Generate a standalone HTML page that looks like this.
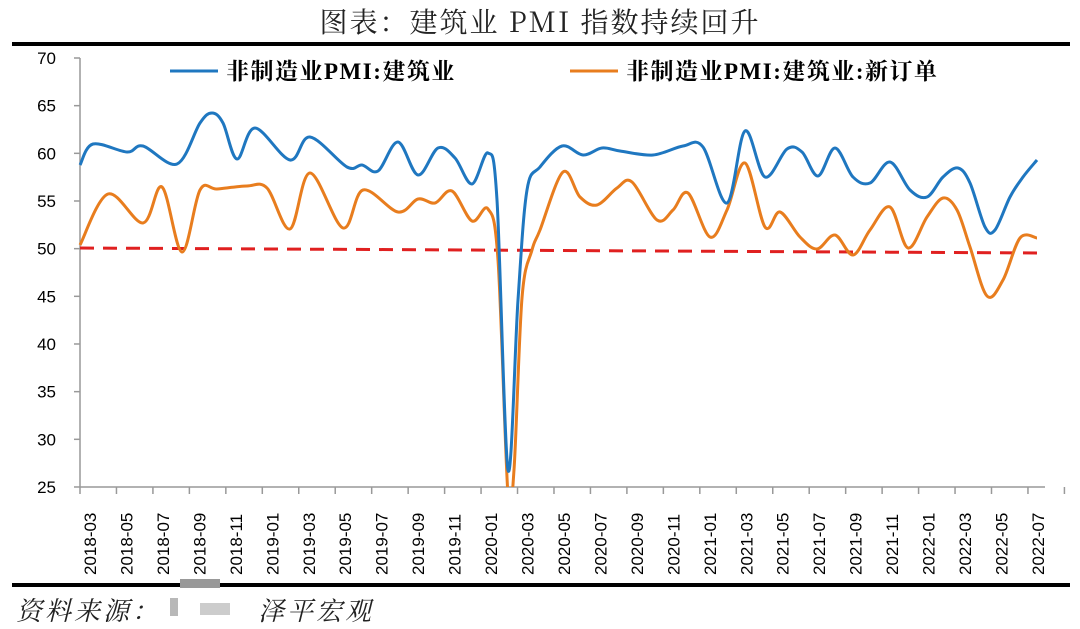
<!DOCTYPE html>
<html><head><meta charset="utf-8"><style>
body{margin:0;background:#fff;width:1080px;height:629px;overflow:hidden}
svg{display:block}
</style></head><body>
<svg id="s" width="1080" height="629" xmlns="http://www.w3.org/2000/svg">
<defs><clipPath id="cp"><rect x="60" y="50" width="1000" height="437"/></clipPath></defs>
<text x="540" y="32" text-anchor="middle" font-family="'Noto Serif CJK SC','Liberation Serif',serif" font-size="28" letter-spacing="2" fill="#222">图表：建筑业 PMI 指数持续回升</text>
<rect x="12" y="42" width="1058" height="4" fill="#000"/>
<rect x="12" y="583" width="1058" height="4" fill="#000"/>
<rect x="180" y="579" width="40" height="9" fill="#999"/>
<text x="16" y="620" font-family="'Noto Serif CJK SC',serif" font-style="italic" font-size="26" letter-spacing="3" fill="#222">资料来源：</text>
<rect x="170" y="598" width="8" height="18" fill="#888" opacity="0.6"/>
<rect x="200" y="603" width="30" height="12" fill="#aaa" opacity="0.6"/>
<text x="258" y="620" font-family="'Noto Serif CJK SC',serif" font-style="italic" font-size="26" letter-spacing="3" fill="#222">泽平宏观</text>
<g id="axes" stroke="#999" stroke-width="1.5" fill="none"></g>
<g id="labels" font-family="'Liberation Sans',sans-serif" font-size="17" fill="#000"></g>
<line x1="80" y1="248" x2="1045" y2="253" stroke="#e02020" stroke-width="3" stroke-dasharray="14,9"/>
<g clip-path="url(#cp)">
<path id="o" fill="none" stroke="#e87d1e" stroke-width="3"/>
<path id="b" fill="none" stroke="#1f77c0" stroke-width="3"/>
</g>
<line x1="170" y1="71" x2="218" y2="71" stroke="#1f77c0" stroke-width="3"/>
<text x="226" y="79" font-family="'Liberation Serif','Noto Serif CJK SC',serif" font-weight="bold" font-size="23" letter-spacing="1.5" fill="#000">非制造业PMI:建筑业</text>
<line x1="570" y1="71" x2="618" y2="71" stroke="#e87d1e" stroke-width="3"/>
<text x="626" y="79" font-family="'Liberation Serif','Noto Serif CJK SC',serif" font-weight="bold" font-size="23" letter-spacing="1.5" fill="#000">非制造业PMI:建筑业:新订单</text>
</svg>
<script>
var ns="http://www.w3.org/2000/svg";
function el(t,a,p){var e=document.createElementNS(ns,t);for(var k in a)e.setAttribute(k,a[k]);p.appendChild(e);return e;}
var ax=document.getElementById('axes'),lb=document.getElementById('labels');
el('line',{x1:80,y1:58,x2:80,y2:487},ax);
el('line',{x1:80,y1:487,x2:1045,y2:487},ax);
for(var v=25;v<=70;v+=5){var y=58+(70-v)*9.533;el('line',{x1:74,y1:y,x2:80,y2:y},ax);
var t=el('text',{x:56,y:y+6,'text-anchor':'end'},lb);t.textContent=v;}
var lab=[];for(var y=2018,m=3;!(y==2022&&m>7);){lab.push(y+'-'+(m<10?'0':'')+m);m+=2;if(m>12){m-=12;y++;}}
for(var i=0;i<=27;i++){var x=80+i*36.46;el('line',{x1:x,y1:487,x2:x,y2:494},ax);}
lab.forEach(function(s,i){var x=90+i*36.46+6;var t=el('text',{x:x,y:575,transform:'rotate(-90 '+x+' 575)'},lb);t.textContent=s;});
function cr(p){var d='M'+p[0][0]+','+p[0][1];for(var i=0;i<p.length-1;i++){var p0=p[i-1]||p[i],p1=p[i],p2=p[i+1],p3=p[i+2]||p2;
d+=' C'+(p1[0]+(p2[0]-p0[0])/6)+','+(p1[1]+(p2[1]-p0[1])/6)+' '+(p2[0]-(p3[0]-p1[0])/6)+','+(p2[1]-(p3[1]-p1[1])/6)+' '+p2[0]+','+p2[1];}return d;}
var B=[[80,165],[93,144],[127,152],[143,146],[177,164],[200,123],[212,113],[223,123],[237,159],[255,128],[290,160],[310,137],[347,167],[362,165],[378,171],[398,142],[418,175],[438,148],[455,158],[472,184],[488,153],[497,200],[508,470],[518,300],[527,190],[540,167],[562,146],[583,155],[602,148],[620,151],[653,155],[683,146],[703,147],[727,203],[745,131],[765,177],[787,149],[802,152],[818,176],[835,148],[853,177],[870,183],[890,162],[910,190],[927,197],[943,177],[958,168],[970,183],[985,227],[995,230],[1010,197],[1023,177],[1037,160]];
var O=[[80,245],[108,194],[143,223],[162,187],[182,252],[200,190],[217,189],[247,186],[267,188],[290,229],[310,173],[343,228],[363,190],[398,212],[418,199],[435,203],[452,191],[472,221],[488,209],[498,260],[508,495],[514,470],[522,298],[532,250],[540,230],[563,172],[580,197],[597,205],[617,188],[632,182],[657,220],[673,210],[688,193],[710,237],[727,210],[745,163],[765,227],[780,212],[800,237],[817,249],[835,235],[853,255],[870,230],[890,207],[908,248],[927,217],[943,198],[957,210],[970,247],[987,296],[1003,280],[1020,238],[1037,238]];
document.getElementById('b').setAttribute('d',cr(B));
document.getElementById('o').setAttribute('d',cr(O));
</script>
</body></html>
